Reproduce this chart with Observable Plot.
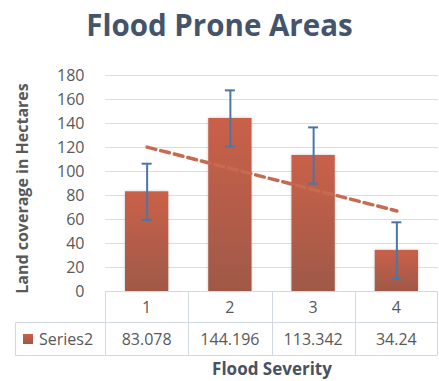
<!DOCTYPE html>
<html>
<head>
<meta charset="utf-8">
<script src="https://cdn.jsdelivr.net/npm/d3@7"></script>
<script src="https://cdn.jsdelivr.net/npm/@observablehq/plot@0.6"></script>
<style>
  html, body { margin: 0; padding: 0; background: #ffffff; }
  #chart { position: relative; width: 439px; height: 381px; overflow: hidden; font-family: "Open Sans", sans-serif; }
  #title { position: relative; height: 62px; }
  #title span { position: absolute; left: 0; right: 0; top: 10px; text-align: center; font-weight: bold; font-size: 29.5px; line-height: 29.5px; color: #44546a; white-space: nowrap; }
  #chart svg { display: block; }
</style>
</head>
<body>
<div id="chart">
  <div id="title"><span>Flood Prone Areas</span></div>
</div>
<script>
// ---- data ----
const titleText = "Flood Prone Areas";
const categories = [1, 2, 3, 4];
const values = [83.078, 144.196, 113.342, 34.24];
const errors = [23.42, 23.42, 23.42, 23.42];   // standard error bars
const seriesName = "Series2";
const yTicks = [0, 20, 40, 60, 80, 100, 120, 140, 160, 180];
const yLabel = "Land coverage in Hectares";
const xLabel = "Flood Severity";

const data = categories.map((c, i) => ({c, v: values[i], e: errors[i]}));

const textColor = "#595959";
const gridColor = "#d9dee7";
const tableColor = "#d3d9e4";
const errColor = "#4a76a8";
const trendColor = "#c86a4f";

function defsMark(index, scales, vals, dims, context) {
  const g = d3.create("svg:g");
  const defs = g.append("defs");
  const lg = defs.append("linearGradient").attr("id", "barGrad")
    .attr("x1", 0).attr("y1", 0).attr("x2", 0).attr("y2", 1);
  lg.append("stop").attr("offset", "0%").attr("stop-color", "#ca604a");
  lg.append("stop").attr("offset", "100%").attr("stop-color", "#9f5947");
  const f = defs.append("filter").attr("id", "barShadow")
    .attr("x", "-20%").attr("y", "-5%").attr("width", "140%").attr("height", "110%");
  f.append("feDropShadow").attr("dx", 0).attr("dy", 0).attr("stdDeviation", 1.6)
    .attr("flood-color", "#888").attr("flood-opacity", 0.45);
  return g.node();
}

function tableMark(index, scales, vals, dims, context) {
  const x = scales.x;
  const {width, height, marginBottom, marginLeft, marginRight} = dims;
  const y0 = height - marginBottom + 0.5;
  const r1 = y0 + 31, r2 = y0 + 64;
  const left = marginLeft + 0.5, right = width - marginRight - 0.5;
  const legendLeft = 15.5;
  const g = d3.create("svg:g").attr("stroke", tableColor).attr("stroke-width", 1);
  // horizontal lines
  g.append("line").attr("x1", left).attr("x2", right).attr("y1", y0).attr("y2", y0);
  g.append("line").attr("x1", legendLeft).attr("x2", right).attr("y1", r1).attr("y2", r1);
  g.append("line").attr("x1", legendLeft).attr("x2", right).attr("y1", r2).attr("y2", r2);
  // vertical lines
  g.append("line").attr("x1", legendLeft).attr("x2", legendLeft).attr("y1", r1).attr("y2", r2);
  const bounds = [categories[0] - 0.5, ...categories.map(c => c + 0.5)];
  bounds.forEach(b => {
    const xb = Math.min(right, Math.round(x(b)) + 0.5);
    g.append("line").attr("x1", xb).attr("x2", xb).attr("y1", y0).attr("y2", r2);
  });
  const t = g.append("g").attr("stroke", "none").attr("fill", textColor)
    .attr("font-size", 16).attr("text-anchor", "middle");
  categories.forEach((c, i) => {
    t.append("text").attr("x", x(c)).attr("y", (y0 + r1) / 2).attr("dy", "0.35em").text(String(c));
    t.append("text").attr("x", x(c)).attr("y", (r1 + r2) / 2).attr("dy", "0.35em").text(String(values[i]));
  });
  g.append("rect").attr("stroke", "none").attr("x", 23).attr("y", (r1 + r2) / 2 - 5)
    .attr("width", 10).attr("height", 10).attr("fill", "url(#barGrad)");
  t.append("text").attr("text-anchor", "start").attr("x", 39).attr("y", (r1 + r2) / 2)
    .attr("dy", "0.35em").text(seriesName);
  return g.node();
}

const plot = Plot.plot({
  width: 439,
  height: 319,
  marginTop: 13,
  marginBottom: 90,
  marginLeft: 105,
  marginRight: 1,
  x: {domain: [0.5, 4.5], axis: null},
  y: {domain: [0, 180], label: null},
  style: {fontFamily: "Open Sans", fontSize: "16px", color: textColor, background: "white", overflow: "visible"},
  marks: [
    defsMark,
    Plot.ruleY(yTicks.filter(t => t > 0), {stroke: gridColor, strokeWidth: 1}),
    Plot.axisY({ticks: yTicks, tickSize: 0, tickPadding: 21, fontSize: 16, fill: textColor, label: null}),
    Plot.rectY(data, {x1: d => d.c - 0.26, x2: d => d.c + 0.26, y1: 0, y2: "v", fill: "url(#barGrad)"}),
    Plot.linearRegressionY(data, {x: "c", y: "v", ci: 0, stroke: trendColor, strokeWidth: 3.5, strokeDasharray: "9,5"}),
    Plot.ruleX(data, {x: "c", y1: d => d.v - d.e, y2: d => d.v + d.e, stroke: errColor, strokeWidth: 2}),
    Plot.ruleY(data, {y: d => d.v - d.e, x1: d => d.c - 0.06, x2: d => d.c + 0.06, stroke: errColor, strokeWidth: 2}),
    Plot.ruleY(data, {y: d => d.v + d.e, x1: d => d.c - 0.06, x2: d => d.c + 0.06, stroke: errColor, strokeWidth: 2}),
    tableMark,
    Plot.text([yLabel], {text: d => d, frameAnchor: "left", textAnchor: "middle", lineAnchor: "middle", dx: -83, dy: 5, rotate: -90, fontWeight: "bold", fontSize: 16, fill: textColor}),
    Plot.text([xLabel], {text: d => d, frameAnchor: "bottom", textAnchor: "middle", lineAnchor: "middle", dy: 78, fontWeight: "bold", fontSize: 17, fill: "#4a5161"})
  ]
});

d3.select(plot).selectAll("g[aria-label='rect'] rect").attr("filter", "url(#barShadow)");
document.getElementById("chart").appendChild(plot);
</script>
</body>
</html>
